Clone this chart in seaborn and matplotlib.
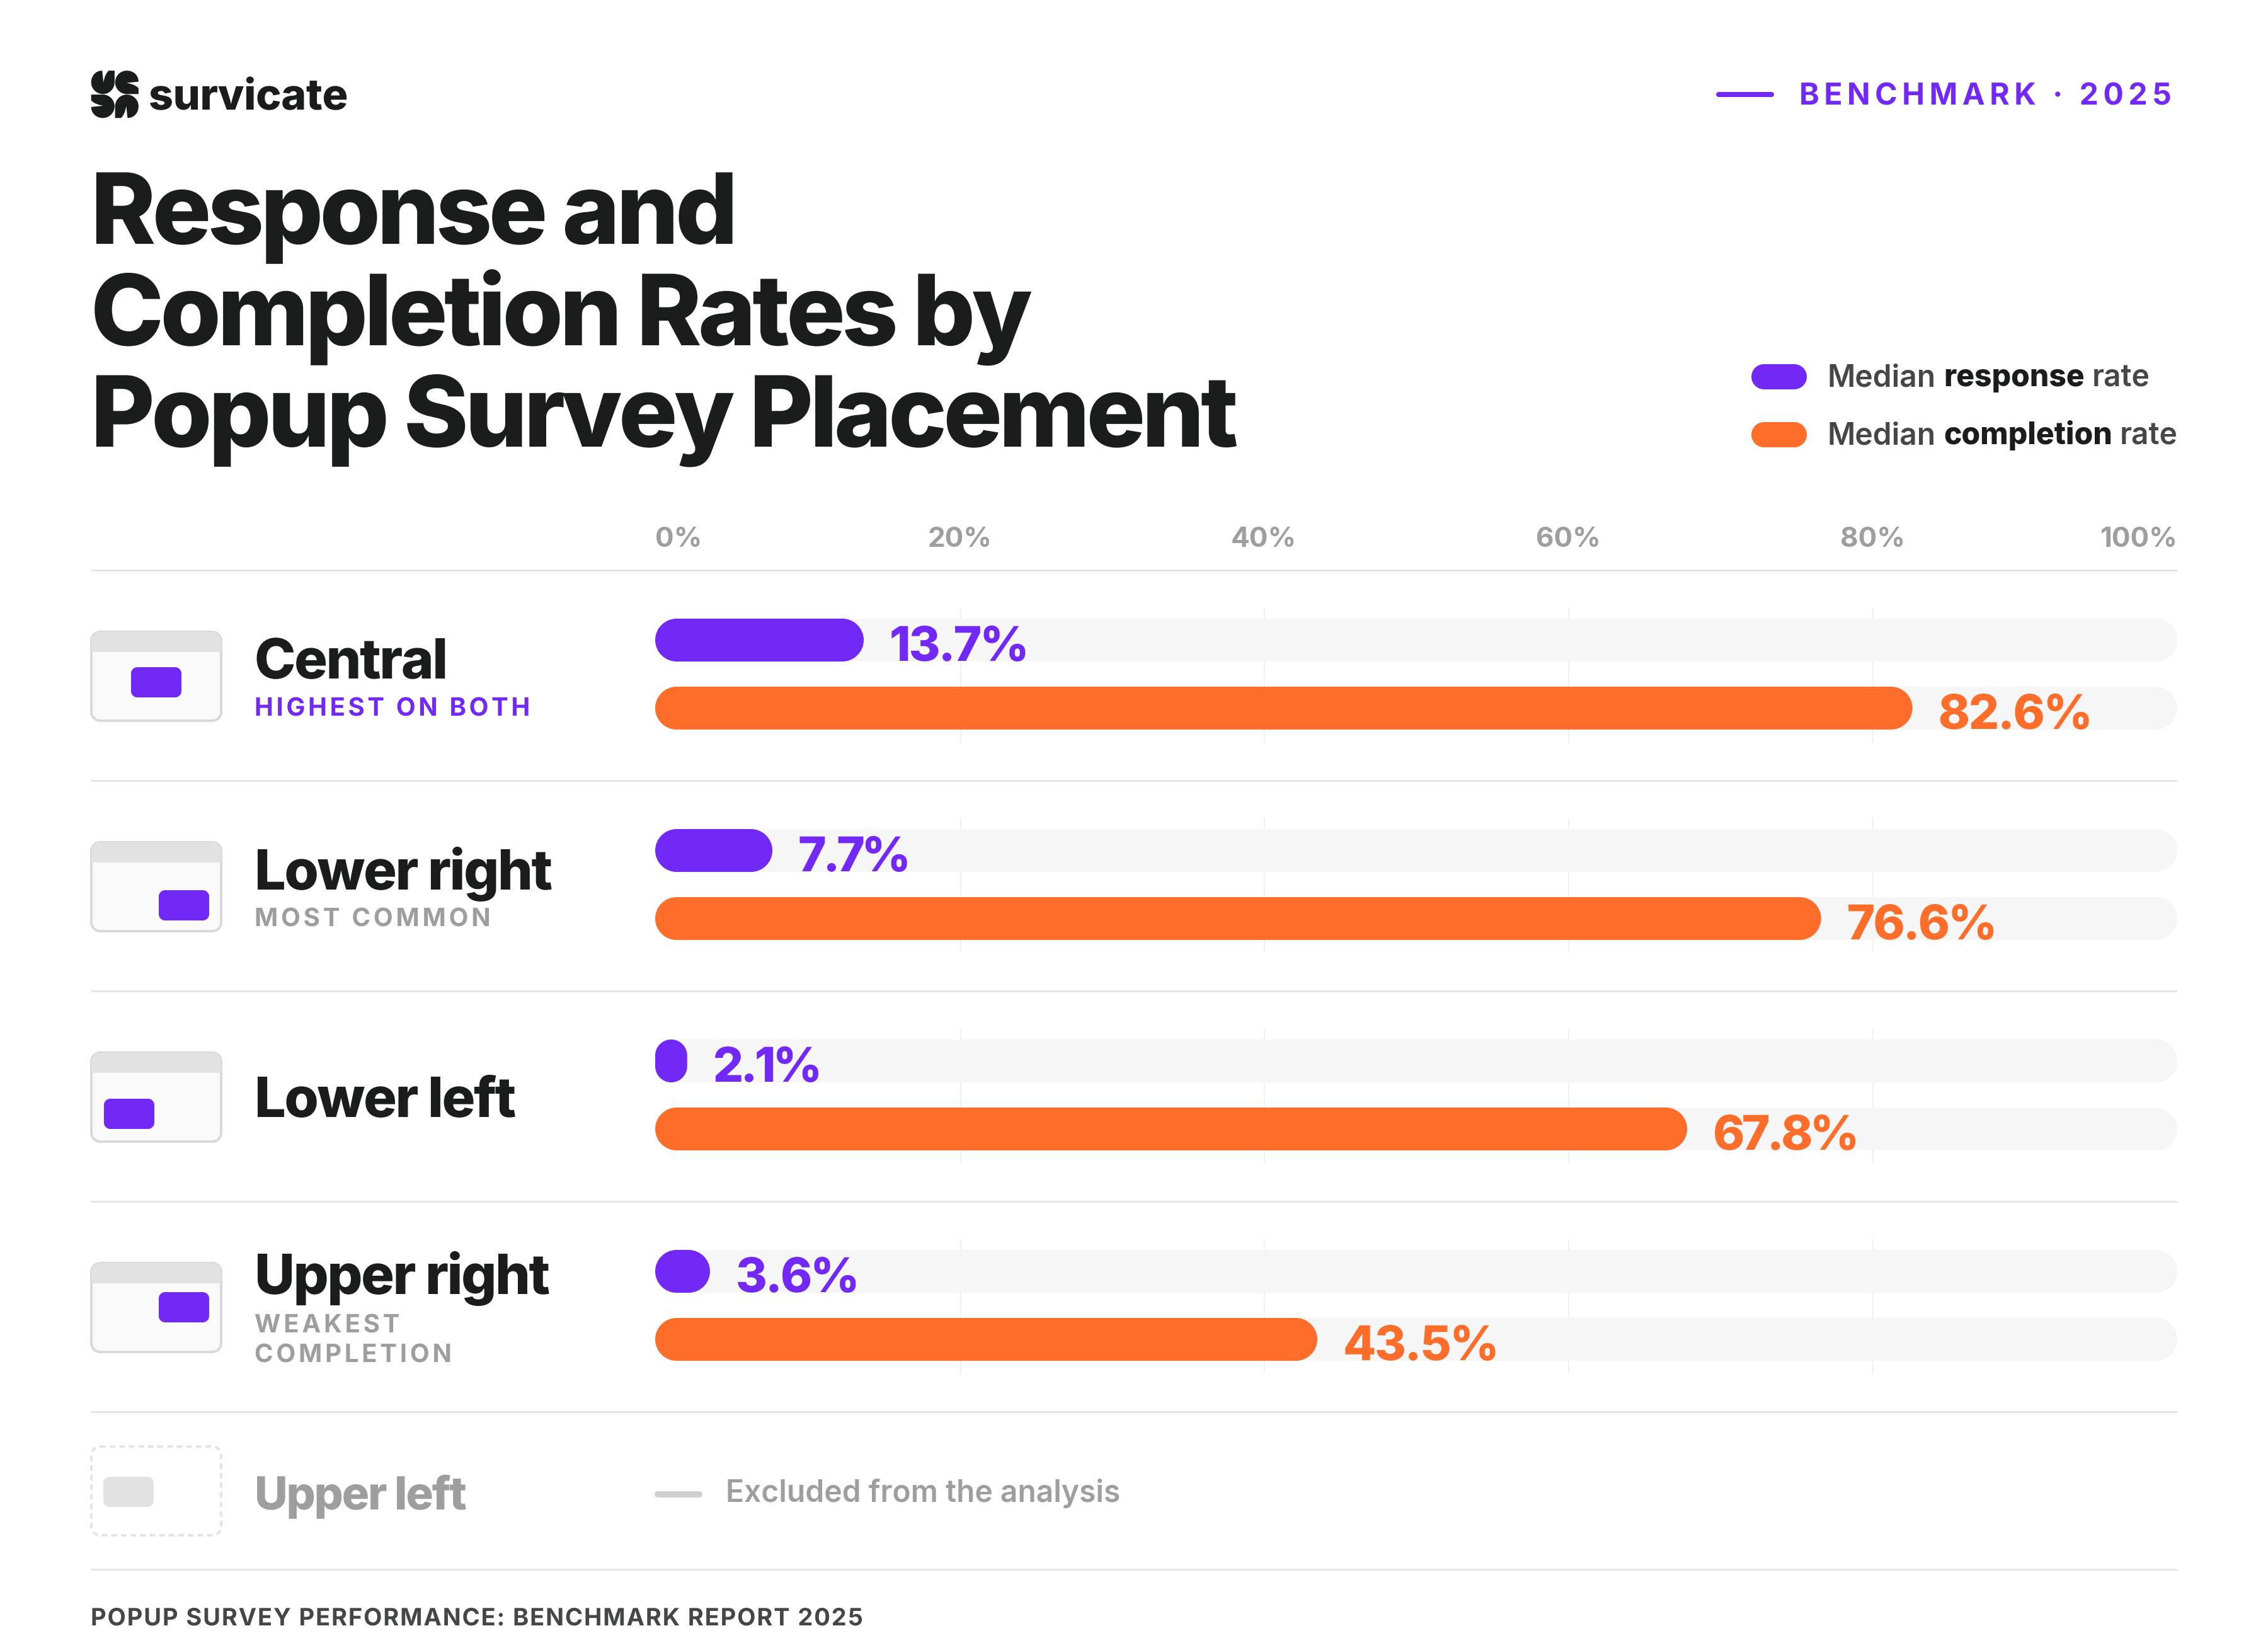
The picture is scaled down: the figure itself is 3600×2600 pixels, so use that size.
"""Response and completion rates by popup placement, survicate benchmark card."""

import matplotlib.pyplot as plt
import numpy as np
import pandas as pd
import seaborn as sns
from matplotlib.patches import PathPatch, Rectangle
from matplotlib.path import Path
from matplotlib.patheffects import AbstractPathEffect
from matplotlib.transforms import IdentityTransform

placements = ["Central", "Lower right", "Lower left", "Upper right"]
response_rate = [13.7, 7.7, 2.1, 3.6]
completion_rate = [82.6, 76.6, 67.8, 43.5]
metric_names = ["Median response rate", "Median completion rate"]
x_ticks = [0, 20, 40, 60, 80, 100]
x_tick_labels = ["0%", "20%", "40%", "60%", "80%", "100%"]
title_lines = ["Response and", "Completion Rates by", "Popup Survey Placement"]

PURPLE = "#7229F6"
ORANGE = "#FF6D2A"
INK = "#1A1D1C"
GREY = "#9E9E9E"
BODY = "#444746"
RULE = "#E5E5E5"
TRACK = "#F6F6F6"
GRIDC = "#F1F1F1"

# pixel layout, the figure is 3600x2600 at dpi 100
W, H = 3600, 2600
AX_L, AX_R = 1040, 3456
AX_T, AX_B = 905, 2240
ROW_H = 334
ROW0 = 1070
PX = 0.72  # pt per px

# the static Inter files have no kerning table, so pairs like "7." need help
LABEL_TRACK = {7.7: -0.068, 2.1: -0.06, 67.8: -0.06, 76.6: -0.038, 13.7: -0.038, 3.6: -0.038}


class Tracking(AbstractPathEffect):
    """CSS style letter-spacing, text stays one string."""

    def __init__(self, em_px, amount):
        super().__init__()
        self.em = em_px
        self.amount = amount

    def draw_path(self, renderer, gc, tpath, affine, rgbFace=None):
        path = affine.transform_path(tpath)
        verts = path.vertices.copy()
        starts = np.flatnonzero(path.codes == Path.MOVETO)
        stops = np.r_[starts[1:], len(verts)]
        glyph = 0
        right = None
        for a, b in zip(starts, stops):
            lo = verts[a:b, 0].min()
            hi = verts[a:b, 0].max()
            if right is not None and lo >= right - 0.5:
                glyph += 1
                if lo - right > 0.2 * self.em:
                    glyph += 1  # a space
            right = hi if right is None or lo >= right - 0.5 else max(right, hi)
            verts[a:b, 0] += glyph * self.amount * self.em
        renderer.draw_path(gc, Path(verts, path.codes), IdentityTransform(), rgbFace)


def rounded_path(x, y, w, h, rx, ry):
    kx, ky = rx * 0.4477, ry * 0.4477
    x1, y1 = x + w, y + h
    verts = [(x + rx, y), (x1 - rx, y),
             (x1 - kx, y), (x1, y + ky), (x1, y + ry), (x1, y1 - ry),
             (x1, y1 - ky), (x1 - kx, y1), (x1 - rx, y1), (x + rx, y1),
             (x + kx, y1), (x, y1 - ky), (x, y1 - ry), (x, y + ry),
             (x, y + ky), (x + kx, y), (x + rx, y), (x + rx, y)]
    c4 = [Path.CURVE4] * 3
    codes = [Path.MOVETO, Path.LINETO] + c4 + [Path.LINETO] + c4 + [Path.LINETO] + c4 + [Path.LINETO] + c4 + [Path.CLOSEPOLY]
    return Path(verts, codes)


sns.set_theme(style="white")
plt.rcParams["font.family"] = "Inter"

fig = plt.figure(figsize=(W / 100, H / 100), dpi=100, facecolor="white")

# canvas axes in pixels for everything that is not the chart itself
page = fig.add_axes([0, 0, 1, 1], zorder=0)
page.set_xlim(0, W)
page.set_ylim(H, 0)
page.axis("off")


def put(x, y, s, size, color=INK, weight=400, track=0.0, **kw):
    t = page.text(x, y, s, fontsize=size * PX, color=color, fontweight=weight, va="baseline", **kw)
    if track:
        t.set_path_effects([Tracking(size, track)])
    return t


def box(x, y, w, h, r, **kw):
    p = PathPatch(rounded_path(x, y, w, h, r, r), **kw)
    page.add_patch(p)
    return p


# --- logo ---
def logo_leaf(cx, cy, r, turns):
    c = 0.5523
    pts = [(0.05, -0.02), (-0.06, 1.0),
           (-0.62, 1.0), (-1, 0.55), (-1, 0),
           (-1, -c), (-c, -1), (0, -1),
           (c, -1), (1, -c), (1, 0),
           (1, 1), (0.5, 1), (0.16, 0.7), (0.05, -0.02), (0.05, -0.02)]
    codes = [Path.MOVETO, Path.LINETO] + [Path.CURVE4] * 9 + [Path.LINETO] * 2 + [Path.CURVE3] * 2 + [Path.CLOSEPOLY]
    pts = np.array(pts)
    rot = np.array([[0, 1], [-1, 0]])
    for _ in range(turns):
        pts = pts @ rot.T
    page.add_patch(PathPatch(Path(np.c_[cx + r * pts[:, 0], cy - r * pts[:, 1]], codes), fc=INK, lw=0))


logo_leaf(163.3, 130.7, 18.6, 0)
logo_leaf(201.3, 130.7, 18.6, 1)
logo_leaf(201.3, 168.7, 18.6, 2)
logo_leaf(163.3, 168.7, 18.6, 3)
put(236, 174, "survicate", 68, weight=800, track=-0.005)

# --- header ---
page.plot([2728, 2812], [150, 150], color=PURPLE, lw=8 * PX, solid_capstyle="round")
put(2856, 166, "BENCHMARK · 2025", 48, color=PURPLE, weight=700, track=0.157)
for line, base_y in zip(title_lines, [387, 548, 709]):
    put(144, base_y, line, 156, weight=800, track=-0.036)

# --- legend ---
renderer = fig.canvas.get_renderer()
for (base, word, tail), swatch, y0 in zip([("Median", "response", "rate"), ("Median", "completion", "rate")], [PURPLE, ORANGE], [578, 670]):
    box(2780, y0, 88, 40, 20, fc=swatch, lw=0)
    x = 2901
    for part, weight, col in [(base, 600, BODY), (word, 800, INK), (tail, 600, BODY)]:
        t = put(x, y0 + 35, part, 48, color=col, weight=weight)
        x += t.get_window_extent(renderer).width + 12

# --- separators and row heads ---
page.hlines([905, 1239, 1573, 1907, 2241, 2491], 144, 3456, color=RULE, lw=3 * PX)

icon_tops = [1003, 1337, 1671, 2005, 2296]
popup_x = [208, 252, 165, 252, 164]
popup_y = [1059, 1413, 1744, 2051, 2344]
popup_col = [PURPLE, PURPLE, PURPLE, PURPLE, "#E2E2E2"]
for i, (top, px_, py_, col) in enumerate(zip(icon_tops, popup_x, popup_y, popup_col)):
    faded = i == 4
    frame = box(145, top, 206, 141, 14, fc="white" if faded else "#FAFAFA", ec="#E4E4E4" if faded else "#D9D9D9",
                lw=4 * PX, ls=(0, (2.2, 1.6)) if faded else "-", zorder=2)
    bar = Rectangle((145, top), 206, 32, fc="#F3F3F3" if faded else "#E2E2E2", lw=0, zorder=1.5 if faded else 2.5)
    page.add_patch(bar)
    bar.set_clip_path(frame)
    box(px_, py_, 80, 48, 10, fc=col, lw=0, zorder=3)

row_labels = placements + ["Upper left"]
row_base = [1077, 1412, 1773, 2054, 2396]
for name, base_y, faded in zip(row_labels, row_base, [False] * 4 + [True]):
    if faded:
        put(404, base_y, name, 72.5, color=GREY, weight=800, track=-0.03)
    else:
        put(404, base_y, name, 88, weight=800, track=-0.027)

put(404, 1136, "HIGHEST ON BOTH", 40, color=PURPLE, weight=700, track=0.116)
put(404, 1470, "MOST COMMON", 40, color=GREY, weight=700, track=0.12)
put(404, 2162, "WEAKEST\nCOMPLETION", 40, color=GREY, weight=700, track=0.12, linespacing=1.35)

page.plot([1044, 1110], [2372, 2372], color="#D0D0D0", lw=10 * PX, solid_capstyle="round")
put(1152, 2384, "Excluded from the analysis", 48, color=GREY, weight=600)
put(144, 2580, "POPUP SURVEY PERFORMANCE: BENCHMARK REPORT 2025", 38, color=BODY, weight=700, track=0.05)

# --- chart ---
ax = fig.add_axes([AX_L / W, 1 - AX_B / H, (AX_R - AX_L) / W, (AX_B - AX_T) / H], zorder=1)
ax.patch.set_alpha(0)

df = pd.DataFrame({
    "Placement": placements * 2,
    "Metric": [metric_names[0]] * 4 + [metric_names[1]] * 4,
    "Value": response_rate + completion_rate,
})
tracks = df.assign(Value=100)
bar_args = dict(y="Placement", x="Value", hue="Metric", order=placements, hue_order=metric_names, orient="h",
                width=0.6467, gap=0.37, saturation=1, legend=False, linewidth=0, ax=ax)
sns.barplot(data=tracks, palette=[TRACK, TRACK], **bar_args)
sns.barplot(data=df, palette=[PURPLE, ORANGE], **bar_args)

ax.set_xlim(0, 100)
ax.set_ylim((AX_B - ROW0) / ROW_H, (AX_T - ROW0) / ROW_H)
ax.set_xlabel("")
ax.set_ylabel("")
ax.set_yticks([])
ax.set_xticks(x_ticks, labels=x_tick_labels)
ax.tick_params(axis="x", top=True, labeltop=True, bottom=False, labelbottom=False, length=0, pad=28 * PX)
tick_texts = ax.get_xticklabels()
for lab in tick_texts:
    lab.set_fontsize(44 * PX)
    lab.set_fontweight(700)
    lab.set_color(GREY)
tick_texts[0].set_ha("left")
tick_texts[-1].set_ha("right")
sns.despine(ax=ax, left=True, bottom=True)
ax.grid(False)

x_px = (AX_R - AX_L) / 100

# value labels, from the data bars only
for cont, col in zip(ax.containers[2:], [PURPLE, ORANGE]):
    for rect in cont:
        value = round(rect.get_width(), 1)
        ax.annotate(f"{value:.1f}%", xy=(rect.get_width(), rect.get_y() + rect.get_height()),
                    xytext=(41, 1), textcoords="offset pixels", va="baseline", ha="left", color=col,
                    fontsize=76 * PX, fontweight=800, zorder=6,
                    path_effects=[Tracking(76, LABEL_TRACK.get(value, -0.03))])

# round every bar off
for i, rect in enumerate(list(ax.patches)):
    x, y, w, h = rect.get_x(), rect.get_y(), rect.get_width(), rect.get_height()
    r = min(w * x_px, h * ROW_H) / 2
    ax.add_patch(PathPatch(rounded_path(x, y, w, h, r / x_px, r / ROW_H), fc=rect.get_facecolor(), lw=0, zorder=3 if i < 8 else 4))
    rect.remove()

# short gridlines behind the tracks
grid_x = [20.08, 40.04, 60.02, 80.0]
for k in range(len(placements)):
    ax.vlines(grid_x, k - 105 / ROW_H, k + 108 / ROW_H, color=GRIDC, lw=2 * PX, zorder=2)

fig.savefig("out.png", dpi=100, facecolor="white")
